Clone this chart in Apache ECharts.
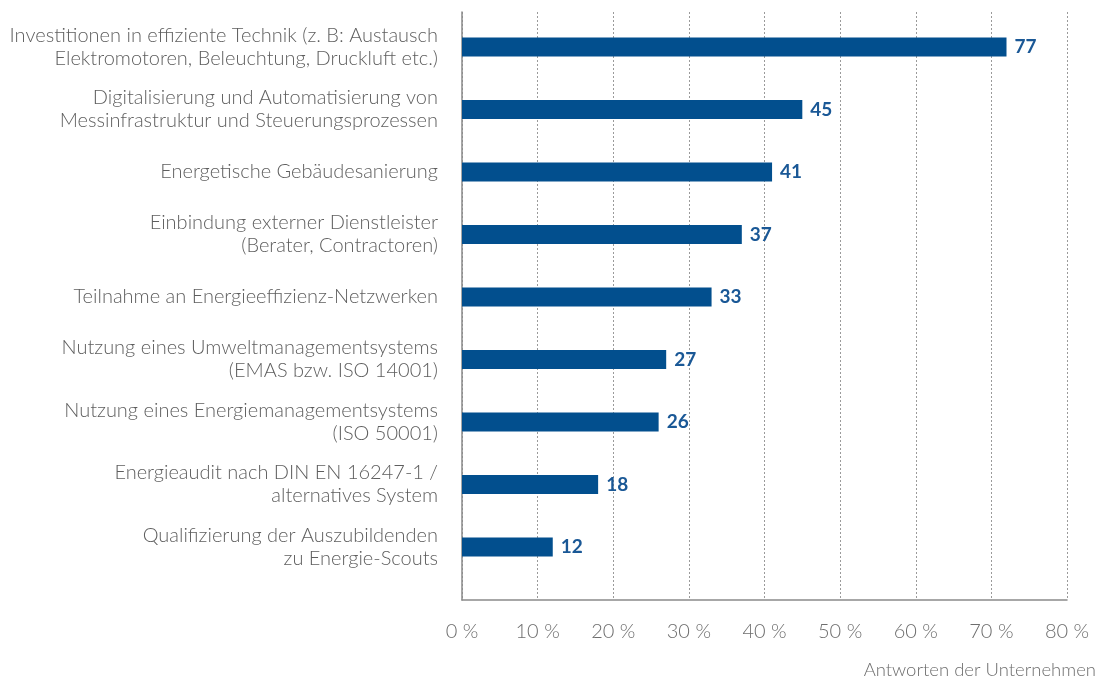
<!DOCTYPE html>
<html><head><meta charset="utf-8">
<script src="https://cdn.jsdelivr.net/npm/echarts@6/dist/echarts.min.js"></script>
<style>html,body{margin:0;padding:0;background:#fff}#c{width:1098px;height:684px}</style>
</head><body><div id="c"></div>
<script>
const categories = [
  "Investitionen in effiziente Technik (z. B: Austausch\nElektromotoren, Beleuchtung, Druckluft etc.)",
  "Digitalisierung und Automatisierung von\nMessinfrastruktur und Steuerungsprozessen",
  "Energetische Gebäudesanierung",
  "Einbindung externer Dienstleister\n(Berater, Contractoren)",
  "Teilnahme an Energieeffizienz-Netzwerken",
  "Nutzung eines Umweltmanagementsystems\n(EMAS bzw. ISO 14001)",
  "Nutzung eines Energiemanagementsystems\n(ISO 50001)",
  "Energieaudit nach DIN EN 16247-1 /\nalternatives System",
  "Qualifizierung der Auszubildenden\nzu Energie-Scouts"
];
// labelled values
const values = [77, 45, 41, 37, 33, 27, 26, 18, 12];
// bar lengths as drawn in the reference (first bar is drawn shorter than its label)
const barLengths = [72, 45, 41, 37, 33, 27, 26, 18, 12];
const xTicks = [0, 10, 20, 30, 40, 50, 60, 70, 80];
const axisTitle = "Antworten der Unternehmen";

const FONT = "Lato";
const chart = echarts.init(document.getElementById('c'), null, {renderer: 'canvas'});
const L = 462, R = 31;
chart.setOption({
  animation: false,
  grid: [
    {left: L, right: R, top: 12, bottom: 84, containLabel: false},
    {left: L, right: R, top: 15.75, bottom: 105.75, containLabel: false}
  ],
  xAxis: [
    {gridIndex: 0, type: 'value', min: xTicks[0], max: xTicks[xTicks.length-1], interval: 10,
     axisLine: {show: true, lineStyle: {color: '#8a8a8a', width: 1.5}},
     axisTick: {show: false},
     axisLabel: {margin: 22, color: '#6e6e6e', fontFamily: FONT, fontWeight: 300, fontSize: 20,
       formatter: v => v + ' %'},
     splitLine: {show: true, lineStyle: {color: '#9a9a9a', type: [2, 2], width: 1}}},
    {gridIndex: 1, type: 'value', min: 0, max: 80, show: false, splitLine: {show: false}}
  ],
  yAxis: [
    {gridIndex: 0, type: 'value', min: 0, max: 1, axisLabel: {show: false}, axisTick: {show: false},
     splitLine: {show: false}, axisLine: {show: true, lineStyle: {color: '#8a8a8a', width: 1.5}}},
    {gridIndex: 1, type: 'category', inverse: true, data: categories,
     axisLine: {show: false}, axisTick: {show: false}, splitLine: {show: false},
     axisLabel: {margin: 24, color: '#5e5e5e', fontFamily: FONT, fontWeight: 300, fontSize: 20,
       lineHeight: 23, align: 'right'}}
  ],
  series: [{
    type: 'bar', xAxisIndex: 1, yAxisIndex: 1, barWidth: 19,
    data: barLengths.map((v, i) => ({value: v, label: {formatter: String(values[i])}})),
    itemStyle: {color: '#024f8e'},
    label: {show: true, position: 'right', distance: 8, color: '#1a5896',
      fontFamily: FONT, fontWeight: 'bold', fontSize: 19}
  }],
  graphic: [{type: 'text', right: 2, top: 661,
    style: {text: axisTitle, fill: '#6e6e6e', font: '300 18.5px ' + FONT, textAlign: 'right'}}]
});
</script></body></html>
